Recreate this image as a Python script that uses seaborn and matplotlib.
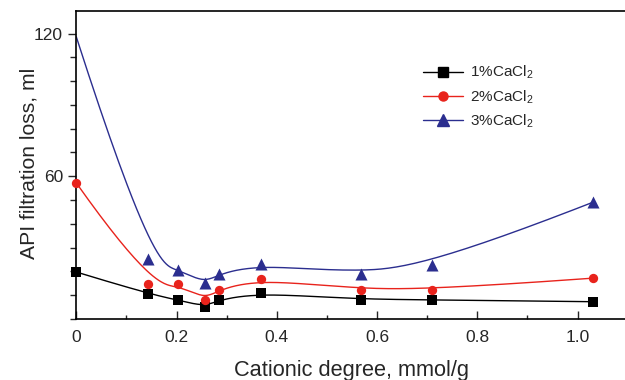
import numpy as np
import pandas as pd
import matplotlib
matplotlib.use("Agg")
import matplotlib.pyplot as plt
from matplotlib.lines import Line2D
from matplotlib.ticker import MultipleLocator, FixedLocator
import seaborn as sns

# ---- data ----
x_1 = [0.0, 0.143, 0.203, 0.256, 0.284, 0.368, 0.567, 0.710, 1.030]
y_1 = [19.7, 10.5, 8.0, 5.0, 8.0, 11.0, 8.0, 8.0, 7.2]
x_2 = [0.0, 0.143, 0.203, 0.256, 0.284, 0.368, 0.567, 0.710, 1.030]
y_2 = [57.2, 14.6, 14.6, 8.1, 12.3, 16.8, 12.3, 12.3, 17.1]
x_3 = [0.0, 0.143, 0.203, 0.256, 0.284, 0.368, 0.567, 0.710, 1.030]
y_3 = [118.7, 25.0, 20.7, 15.0, 18.9, 23.0, 18.9, 22.7, 49.0]
series_names = ["1%CaCl$_2$", "2%CaCl$_2$", "3%CaCl$_2$"]
colors = ["#000000", "#e8231c", "#2b2e8f"]
markers = ["s", "o", "^"]
show_first_marker = [True, True, False]


def bspline(xs, ys, k=3, n=300):
    P = np.column_stack([xs, ys]).astype(float)
    m = len(P)
    inner = np.linspace(0, 1, m - k + 1)
    t = np.concatenate([np.zeros(k), inner, np.ones(k)])
    u = np.linspace(0, 1, n)
    u[-1] = 1 - 1e-12

    def N(i, p, uu):
        if p == 0:
            return np.where((t[i] <= uu) & (uu < t[i + 1]), 1.0, 0.0)
        a = np.zeros_like(uu)
        b = np.zeros_like(uu)
        if t[i + p] != t[i]:
            a = (uu - t[i]) / (t[i + p] - t[i]) * N(i, p - 1, uu)
        if t[i + p + 1] != t[i + 1]:
            b = (t[i + p + 1] - uu) / (t[i + p + 1] - t[i + 1]) * N(i + 1, p - 1, uu)
        return a + b

    B = np.column_stack([N(i, k, u) for i in range(m)])
    C = B @ P
    return C[:, 0], C[:, 1]


sns.set_style("ticks")
plt.rcParams["font.family"] = ["Liberation Sans", "DejaVu Sans"]
plt.rcParams["mathtext.fontset"] = "custom"
plt.rcParams["mathtext.rm"] = "Liberation Sans"
plt.rcParams["mathtext.it"] = "Liberation Sans:italic"

fig = plt.figure(figsize=(6.25, 3.8), dpi=100)
ax = fig.add_axes([0.122, 0.161, 0.88, 0.81])

handles = []
for xs, ys, name, c, mk, sf in zip([x_1, x_2, x_3], [y_1, y_2, y_3], series_names,
                                   colors, markers, show_first_marker):
    cx, cy = bspline(xs, ys)
    sns.lineplot(x=cx, y=cy, sort=False, color=c, lw=1.0, ax=ax, estimator=None)
    df = pd.DataFrame({"x": xs, "y": ys})
    if not sf:
        df = df.iloc[1:]
    ms = {"s": 60, "o": 45, "^": 75}[mk]
    sns.scatterplot(data=df, x="x", y="y", marker=mk, s=ms, color=c,
                    edgecolor=c, linewidth=0, ax=ax, zorder=3, clip_on=False)
    handles.append(Line2D([], [], color=c, lw=1.0, marker=mk,
                          markersize={"s": 7, "o": 6.5, "^": 8.5}[mk], label=name))

ax.set_xlim(0, 1.097)
ax.set_ylim(0, 129.5)
ax.xaxis.set_major_locator(MultipleLocator(0.2))
ax.xaxis.set_minor_locator(MultipleLocator(0.1))
ax.xaxis.set_major_formatter(matplotlib.ticker.FuncFormatter(lambda v, p: "0" if abs(v) < 1e-9 else f"{v:.1f}"))
ax.yaxis.set_major_locator(FixedLocator([60, 120]))
ax.yaxis.set_minor_locator(MultipleLocator(10))
ax.tick_params(axis="x", which="both", direction="in", labelsize=12.5, pad=8)
ax.tick_params(axis="x", which="major", length=6, width=1)
ax.tick_params(axis="x", which="minor", length=3, width=1)
ax.tick_params(axis="y", which="both", direction="out", labelsize=12.5)
ax.tick_params(axis="y", which="major", length=6, width=1)
ax.tick_params(axis="y", which="minor", length=4, width=1)
for s in ax.spines.values():
    s.set_linewidth(1.2)
    s.set_color("black")

ax.set_xlabel("Cationic degree, mmol/g", fontsize=15.7, labelpad=11)
ax.set_ylabel("API filtration loss, ml", fontsize=15.2)
ax.yaxis.set_label_coords(-0.068, 0.505)

ax.legend(handles=handles, loc="upper left", bbox_to_anchor=(0.655, 0.868),
          bbox_transform=fig.transFigure, frameon=False, fontsize=11,
          handlelength=2.6, labelspacing=0.45, handletextpad=0.5)

fig.savefig("out.png", dpi=100)
